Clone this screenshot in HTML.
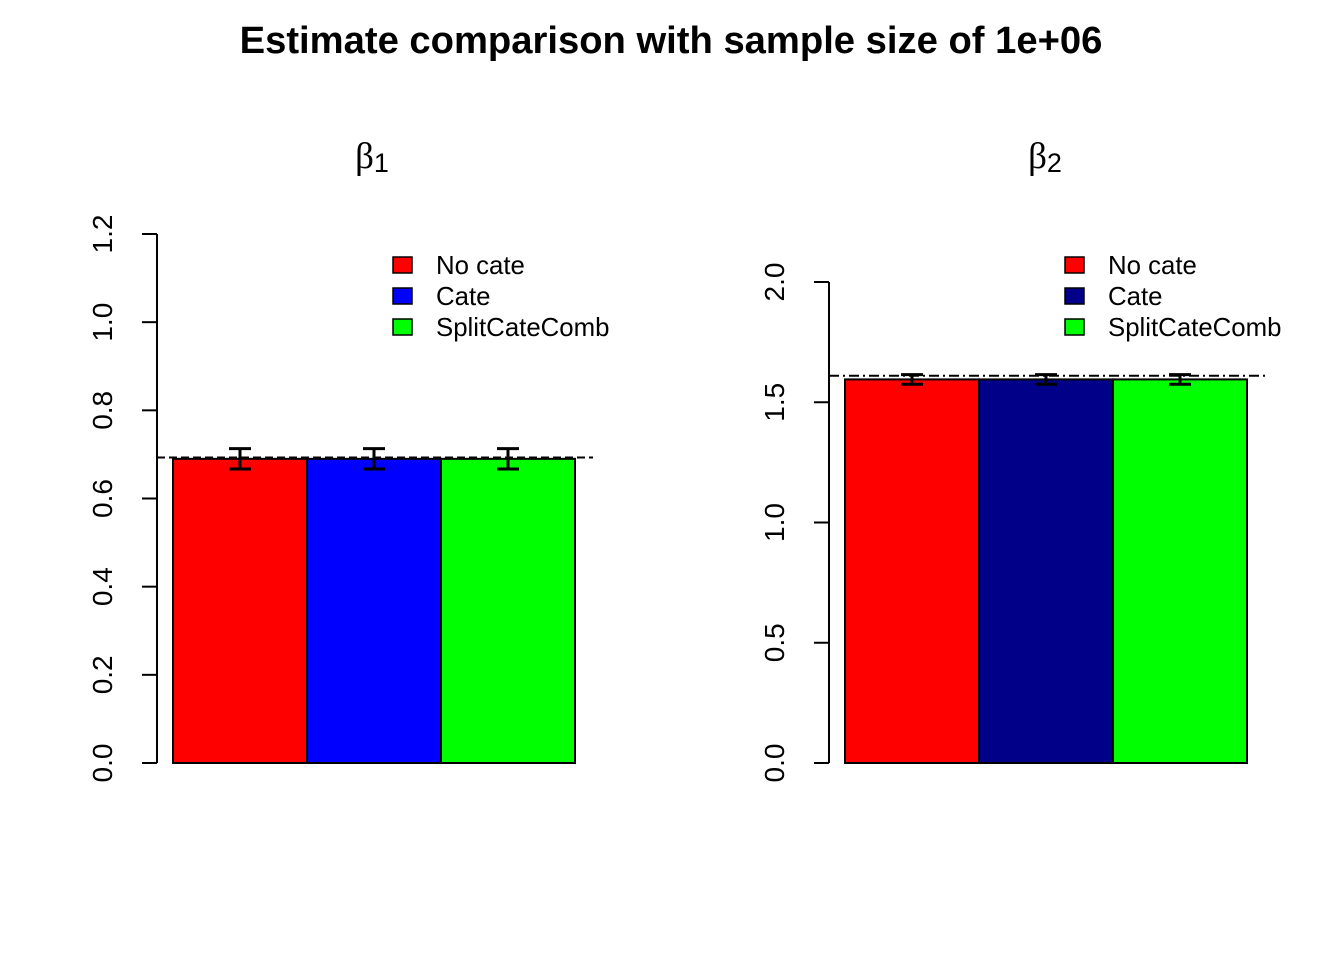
<!DOCTYPE html>
<html><head><meta charset="utf-8"><style>
body{margin:0;background:#fff}
svg{display:block;font-family:"Liberation Sans",Arial,sans-serif}
</style></head><body>
<svg id="s" width="1344" height="960" xmlns="http://www.w3.org/2000/svg">
<rect width="1344" height="960" fill="#fff"/>
<text x="671" y="53" text-anchor="middle" font-size="38.2" font-weight="bold">Estimate comparison with sample size of 1e+06</text>
</svg>
<script>
const categories = ["No cate","Cate","SplitCateComb"];
const beta1Values = [0.690, 0.690, 0.690];
const beta1Err = [0.023, 0.023, 0.023];
const beta1True = 0.693;
const beta2Values = [1.595, 1.595, 1.595];
const beta2Err = [0.02, 0.02, 0.02];
const beta2True = 1.61;
const beta1Ticks = ["0.0","0.2","0.4","0.6","0.8","1.0","1.2"];
const beta2Ticks = ["0.0","0.5","1.0","1.5","2.0"];

const NS = "http://www.w3.org/2000/svg";
const svg = document.getElementById('s');
function mk(tag, attrs, parent){
  const e = document.createElementNS(NS, tag);
  for (const k in attrs) e.setAttribute(k, attrs[k]);
  (parent||svg).appendChild(e);
  return e;
}
function panel(opts){
  const g = mk('g', {});
  
  
  const tickVals = opts.ticks.map(Number);
  const ymax = tickVals[tickVals.length-1];
  const y = v => opts.y0 - (v/ymax)*(opts.y0-opts.yTop);
  const bw = 134;
  const x = i => opts.barX + i*bw;
  const t = mk('text', {x: opts.cx, y: 168, 'text-anchor':'middle', 'font-size':37, 'font-family':'"Liberation Serif",serif'}, g);
  t.textContent = 'β';
  const sub = mk('tspan', {'font-size':27, 'font-family':'"Liberation Sans",sans-serif', dy:4}, t);
  sub.textContent = opts.sub;
  
  
  const ax = mk('line', {x1:opts.axX, x2:opts.axX, y1:y(0), y2:y(ymax), stroke:'#000', 'stroke-width':2}, g);
  
  
  opts.ticks.forEach((lab) => {
    const v = Number(lab);
    mk('line', {x1:opts.axX-15, x2:opts.axX, y1:y(v), y2:y(v), stroke:'#000', 'stroke-width':2}, g);
    const tx = mk('text', {x:0, y:0, 'font-size':28, 'text-anchor':'middle', transform:`translate(${opts.axX-45},${y(v)}) rotate(-90)`}, g);
    tx.textContent = lab;
    
    
  });
  opts.values.forEach((v, i) => {
    const r = mk('rect', {x:x(i), y:y(v), width:bw, height:y(0)-y(v), fill:opts.colors[i], stroke:'#000', 'stroke-width':2}, g);
    
    
  });
  const tl = mk('line', {x1:opts.axX, x2:opts.barX+3*bw+18, y1:y(opts.trueV), y2:y(opts.trueV), stroke:'#000', 'stroke-width':2, 'stroke-dasharray':opts.dash}, g);
  
  
  opts.values.forEach((v, i) => {
    const cx = x(i) + bw/2, hi = y(v+opts.err[i]), lo = y(v-opts.err[i]);
    const eg = mk('g', {stroke:'#000', 'stroke-width':3}, g);
    
    
    mk('line', {x1:cx, x2:cx, y1:hi, y2:lo}, eg);
    mk('line', {x1:cx-11, x2:cx+11, y1:hi, y2:hi}, eg);
    mk('line', {x1:cx-11, x2:cx+11, y1:lo, y2:lo}, eg);
  });
  categories.forEach((c, i) => {
    const ly = 265 + i*31;
    const lg = mk('g', {}, g);
    
    
    mk('rect', {x:opts.legX, y:ly-8, width:19, height:16, fill:opts.colors[i], stroke:'#000', 'stroke-width':1.5}, lg);
    const lt = mk('text', {x:opts.legX+43, y:ly+9, 'font-size':25.8}, lg);
    lt.textContent = c;
  });
}
panel({name:'beta1-panel', sub:'1', cx:372, axX:157, y0:763, yTop:234, barX:173, ticks:beta1Ticks, values:beta1Values, err:beta1Err, trueV:beta1True, colors:['#ff0000','#0000ff','#00ff00'], dash:'8,4', legX:393});
panel({name:'beta2-panel', sub:'2', cx:1045, axX:829, y0:763, yTop:282, barX:845, ticks:beta2Ticks, values:beta2Values, err:beta2Err, trueV:beta2True, colors:['#ff0000','#000088','#00ff00'], dash:'10,4,2,4', legX:1065});
</script>
</body></html>
